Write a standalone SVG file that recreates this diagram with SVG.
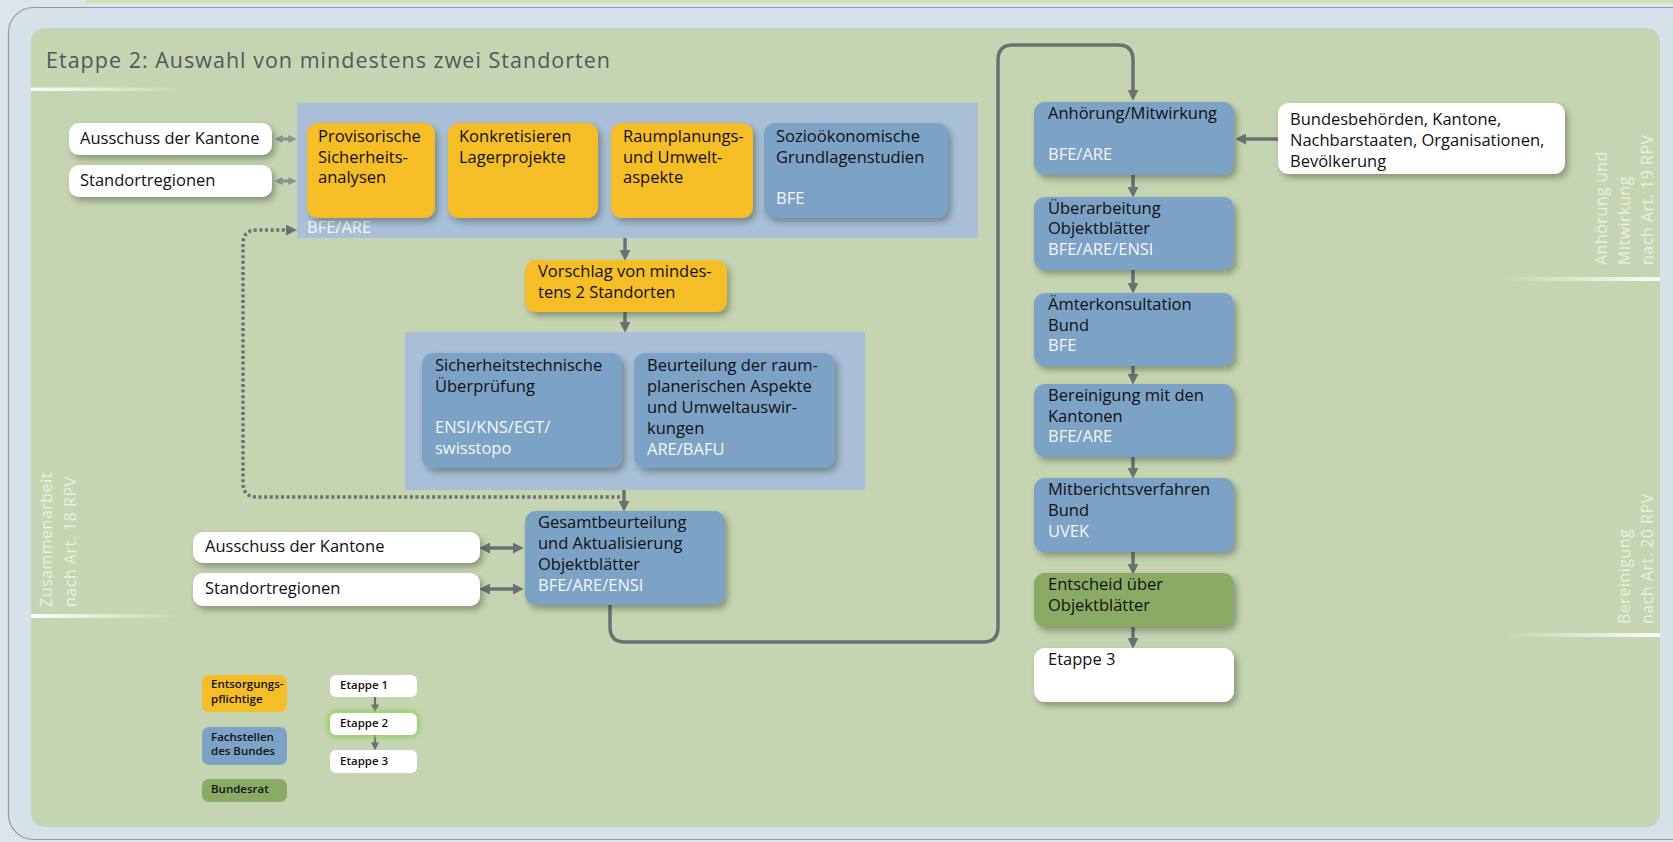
<svg xmlns="http://www.w3.org/2000/svg" width="1673" height="842" viewBox="0 0 1673 842">
<defs>
<style>
.t{font-family:"Open Sans","Noto Sans","DejaVu Sans",sans-serif;font-size:16.5px;font-weight:500;fill:#111111}
.w{fill:#f4f7fa}
.yel{fill:#f5bd28}
.blu{fill:#7ca2c6}
.grn{fill:#8aab65}
.wht{fill:#ffffff}
.pan{fill:#a9bfd7}
.lg{font-size:11.5px;font-weight:600}
.side{font-size:16px;font-weight:400;fill:#ffffff;fill-opacity:0.65;letter-spacing:0.5px}
.arr{stroke:#6b7073;stroke-width:3.5;fill:none}
.arr2{stroke:#6b7073;stroke-width:2.2;fill:none}
.dot{stroke:#6b7073;stroke-width:3.5;fill:none;stroke-dasharray:3 2.6}
</style>
<filter id="sh" x="-20%" y="-20%" width="150%" height="160%">
<feDropShadow dx="3" dy="4" stdDeviation="3.2" flood-color="#2c3528" flood-opacity="0.4"/>
</filter>
<filter id="glow" x="-30%" y="-60%" width="160%" height="220%">
<feGaussianBlur stdDeviation="2.5"/>
</filter>
<linearGradient id="fadeR" x1="0" y1="0" x2="1" y2="0">
<stop offset="0" stop-color="#ffffff" stop-opacity="0.95"/>
<stop offset="1" stop-color="#ffffff" stop-opacity="0"/>
</linearGradient>
<linearGradient id="fadeL" x1="0" y1="0" x2="1" y2="0">
<stop offset="0" stop-color="#ffffff" stop-opacity="0"/>
<stop offset="1" stop-color="#ffffff" stop-opacity="0.95"/>
</linearGradient>
<marker id="ah" viewBox="0 0 10 10" markerUnits="userSpaceOnUse" markerWidth="11" markerHeight="11" refX="2" refY="5" orient="auto-start-reverse">
<path d="M0,0 L10,5 L0,10 z" fill="#6b7073"/>
</marker>
<marker id="ahs" viewBox="0 0 10 10" markerUnits="userSpaceOnUse" markerWidth="8" markerHeight="8" refX="2" refY="5" orient="auto-start-reverse">
<path d="M0,0 L10,5 L0,10 z" fill="#6b7073"/>
</marker>
<marker id="ahl" viewBox="0 0 10 10" markerUnits="userSpaceOnUse" markerWidth="8" markerHeight="9" refX="2" refY="5" orient="auto-start-reverse">
<path d="M0,0 L10,5 L0,10 z" fill="#8a9093"/>
</marker>
</defs>

<g id="background">
<rect x="0" y="0" width="1673" height="842" fill="#dae6ec"/>
<rect x="85" y="0" width="1588" height="2.5" fill="#cfe3a8"/>
<rect x="8.5" y="7.5" width="1720" height="832" rx="25" fill="#d5e2e9" stroke="#8f9ba2" stroke-width="1.2"/>
<rect x="31" y="28" width="1629" height="799" rx="14" fill="#c6d5b1"/>
<rect x="31" y="87.5" width="150" height="3.5" fill="url(#fadeR)"/>
<rect x="31" y="614" width="150" height="4" fill="url(#fadeR)"/>
<rect x="1505" y="277" width="155" height="4" fill="url(#fadeL)"/>
<rect x="1505" y="633" width="155" height="4" fill="url(#fadeL)"/>
<text class="t" x="46" y="68" style="font-size:21.5px;font-weight:400;fill:#52585c" textLength="564" lengthAdjust="spacing">Etappe 2: Auswahl von mindestens zwei Standorten</text>
<text class="t side" transform="translate(52,607) rotate(-90)">Zusammenarbeit</text>
<text class="t side" transform="translate(76,607) rotate(-90)">nach Art. 18 RPV</text>
<text class="t side" transform="translate(1607,265) rotate(-90)">Anhörung und</text>
<text class="t side" transform="translate(1630,265) rotate(-90)">Mitwirkung</text>
<text class="t side" transform="translate(1653,265) rotate(-90)">nach Art. 19 RPV</text>
<text class="t side" transform="translate(1630,624) rotate(-90)">Bereinigung</text>
<text class="t side" transform="translate(1653,624) rotate(-90)">nach Art. 20 RPV</text>
</g>

<g id="panel-top">
<rect class="pan" x="297" y="103" width="681" height="135"/>
<text class="t w" x="307" y="233">BFE/ARE</text>
</g>
<g id="panel-mid">
<rect class="pan" x="405" y="332" width="460" height="158"/>
</g>

<g id="connectors">
<path class="arr" d="M610,605 V627 Q610,642 625,642 H983 Q998,642 998,627 V60 Q998,45 1013,45 H1118 Q1133,45 1133,60 V92" marker-end="url(#ah)"/>
<path class="dot" d="M620,497 H257 Q243,497 243,483 V244 Q243,230 257,230 H288" marker-end="url(#ah)"/>
<path class="arr" d="M625,238 V252" marker-end="url(#ah)"/>
<path class="arr" d="M625,312 V324" marker-end="url(#ah)"/>
<path class="arr" d="M624,490 V503" marker-end="url(#ah)"/>
<path class="arr" d="M1133,175 V189" marker-end="url(#ah)"/>
<path class="arr" d="M1133,270 V285" marker-end="url(#ah)"/>
<path class="arr" d="M1133,366 V376" marker-end="url(#ah)"/>
<path class="arr" d="M1133,457 V470" marker-end="url(#ah)"/>
<path class="arr" d="M1133,552 V566" marker-end="url(#ah)"/>
<path class="arr" d="M1133,627 V640" marker-end="url(#ah)"/>
<path class="arr" d="M1278,139 H1244" marker-end="url(#ah)"/>
<path class="arr" d="M488,548 H515" marker-start="url(#ah)" marker-end="url(#ah)"/>
<path class="arr" d="M488,589 H515" marker-start="url(#ah)" marker-end="url(#ah)"/>
<path stroke="#8a9093" stroke-width="3" fill="none" d="M281,139 H290" marker-start="url(#ahl)" marker-end="url(#ahl)"/>
<path stroke="#8a9093" stroke-width="3" fill="none" d="M281,181 H290" marker-start="url(#ahl)" marker-end="url(#ahl)"/>
<path class="arr2" d="M375,697 V706" marker-end="url(#ahs)"/>
<path class="arr2" d="M375,735 V744" marker-end="url(#ahs)"/>
</g>

<g id="n-ausschuss-top">
<rect class="wht" x="69" y="123" width="203" height="32" rx="10" filter="url(#sh)"/>
<text class="t" x="80" y="144">Ausschuss der Kantone</text>
</g>
<g id="n-standort-top">
<rect class="wht" x="69" y="165" width="203" height="32" rx="10" filter="url(#sh)"/>
<text class="t" x="80" y="186">Standortregionen</text>
</g>

<g id="n-provisorische">
<rect class="yel" x="307" y="123" width="128" height="95" rx="11" filter="url(#sh)"/>
<text class="t" x="318" y="142">Provisorische</text>
<text class="t" x="318" y="162.5">Sicherheits-</text>
<text class="t" x="318" y="183">analysen</text>
</g>
<g id="n-konkretisieren">
<rect class="yel" x="448" y="123" width="150" height="95" rx="11" filter="url(#sh)"/>
<text class="t" x="459" y="142">Konkretisieren</text>
<text class="t" x="459" y="162.5">Lagerprojekte</text>
</g>
<g id="n-raumplanung">
<rect class="yel" x="611" y="123" width="142" height="95" rx="11" filter="url(#sh)"/>
<text class="t" x="623" y="142">Raumplanungs-</text>
<text class="t" x="623" y="162.5">und Umwelt-</text>
<text class="t" x="623" y="183">aspekte</text>
</g>
<g id="n-sozio">
<rect class="blu" x="764" y="123" width="184" height="95" rx="11" filter="url(#sh)"/>
<text class="t" x="776" y="142">Sozioökonomische</text>
<text class="t" x="776" y="162.5">Grundlagenstudien</text>
<text class="t w" x="776" y="204">BFE</text>
</g>

<g id="n-vorschlag">
<rect class="yel" x="525" y="260" width="202" height="52" rx="11" filter="url(#sh)"/>
<text class="t" x="538" y="277">Vorschlag von mindes-</text>
<text class="t" x="538" y="297.5">tens 2 Standorten</text>
</g>

<g id="n-sicherheit">
<rect class="blu" x="422" y="353" width="200" height="115" rx="11" filter="url(#sh)"/>
<text class="t" x="435" y="371">Sicherheitstechnische</text>
<text class="t" x="435" y="392">Überprüfung</text>
<text class="t w" x="435" y="433">ENSI/KNS/EGT/</text>
<text class="t w" x="435" y="454">swisstopo</text>
</g>
<g id="n-beurteilung">
<rect class="blu" x="634" y="353" width="201" height="115" rx="11" filter="url(#sh)"/>
<text class="t" x="647" y="371">Beurteilung der raum-</text>
<text class="t" x="647" y="392">planerischen Aspekte</text>
<text class="t" x="647" y="413">und Umweltauswir-</text>
<text class="t" x="647" y="434">kungen</text>
<text class="t w" x="647" y="455">ARE/BAFU</text>
</g>

<g id="n-gesamt">
<rect class="blu" x="525" y="511" width="200" height="94" rx="11" filter="url(#sh)"/>
<text class="t" x="538" y="528">Gesamtbeurteilung</text>
<text class="t" x="538" y="549">und Aktualisierung</text>
<text class="t" x="538" y="570">Objektblätter</text>
<text class="t w" x="538" y="591">BFE/ARE/ENSI</text>
</g>

<g id="n-ausschuss-low">
<rect class="wht" x="193" y="532" width="287" height="31" rx="10" filter="url(#sh)"/>
<text class="t" x="205" y="552">Ausschuss der Kantone</text>
</g>
<g id="n-standort-low">
<rect class="wht" x="193" y="573" width="287" height="33" rx="10" filter="url(#sh)"/>
<text class="t" x="205" y="594">Standortregionen</text>
</g>

<g id="n-anhoerung">
<rect class="blu" x="1034" y="102" width="200" height="73" rx="11" filter="url(#sh)"/>
<text class="t" x="1048" y="119">Anhörung/Mitwirkung</text>
<text class="t w" x="1048" y="160">BFE/ARE</text>
</g>
<g id="n-bundesbehoerden">
<rect class="wht" x="1278" y="103" width="287" height="71" rx="11" filter="url(#sh)"/>
<text class="t" x="1290" y="125">Bundesbehörden, Kantone,</text>
<text class="t" x="1290" y="146">Nachbarstaaten, Organisationen,</text>
<text class="t" x="1290" y="166.5">Bevölkerung</text>
</g>
<g id="n-ueberarbeitung">
<rect class="blu" x="1034" y="197" width="200" height="73" rx="11" filter="url(#sh)"/>
<text class="t" x="1048" y="214">Überarbeitung</text>
<text class="t" x="1048" y="234">Objektblätter</text>
<text class="t w" x="1048" y="255">BFE/ARE/ENSI</text>
</g>
<g id="n-aemter">
<rect class="blu" x="1034" y="293" width="200" height="73" rx="11" filter="url(#sh)"/>
<text class="t" x="1048" y="310">Ämterkonsultation</text>
<text class="t" x="1048" y="331">Bund</text>
<text class="t w" x="1048" y="351">BFE</text>
</g>
<g id="n-bereinigung">
<rect class="blu" x="1034" y="384" width="200" height="73" rx="11" filter="url(#sh)"/>
<text class="t" x="1048" y="401">Bereinigung mit den</text>
<text class="t" x="1048" y="422">Kantonen</text>
<text class="t w" x="1048" y="442">BFE/ARE</text>
</g>
<g id="n-mitbericht">
<rect class="blu" x="1034" y="478" width="200" height="74" rx="11" filter="url(#sh)"/>
<text class="t" x="1048" y="495">Mitberichtsverfahren</text>
<text class="t" x="1048" y="516">Bund</text>
<text class="t w" x="1048" y="537">UVEK</text>
</g>
<g id="n-entscheid">
<rect class="grn" x="1034" y="573" width="200" height="54" rx="11" filter="url(#sh)"/>
<text class="t" x="1048" y="590">Entscheid über</text>
<text class="t" x="1048" y="611">Objektblätter</text>
</g>
<g id="n-etappe3">
<rect class="wht" x="1034" y="648" width="200" height="54" rx="11" filter="url(#sh)"/>
<text class="t" x="1048" y="665">Etappe 3</text>
</g>

<g id="legend">
<g id="lg-entsorgung">
<rect class="yel" x="202" y="675" width="85" height="37" rx="7"/>
<text class="t lg" x="211" y="688">Entsorgungs-</text>
<text class="t lg" x="211" y="703">pflichtige</text>
</g>
<g id="lg-fachstellen">
<rect class="blu" x="202" y="727" width="85" height="38" rx="7"/>
<text class="t lg" x="211" y="741">Fachstellen</text>
<text class="t lg" x="211" y="755">des Bundes</text>
</g>
<g id="lg-bundesrat">
<rect class="grn" x="202" y="779" width="85" height="23" rx="7"/>
<text class="t lg" x="211" y="793">Bundesrat</text>
</g>
<g id="lg-etappe1">
<rect class="wht" x="330" y="675" width="87" height="22" rx="6"/>
<text class="t lg" x="340" y="689">Etappe 1</text>
</g>
<g id="lg-etappe2">
<rect x="330" y="713" width="87" height="22" rx="6" fill="none" stroke="#8ccf5e" stroke-width="5" filter="url(#glow)"/>
<rect class="wht" x="330" y="713" width="87" height="22" rx="6"/>
<text class="t lg" x="340" y="727">Etappe 2</text>
</g>
<g id="lg-etappe3">
<rect class="wht" x="330" y="750" width="87" height="23" rx="6"/>
<text class="t lg" x="340" y="765">Etappe 3</text>
</g>
</g>
</svg>
